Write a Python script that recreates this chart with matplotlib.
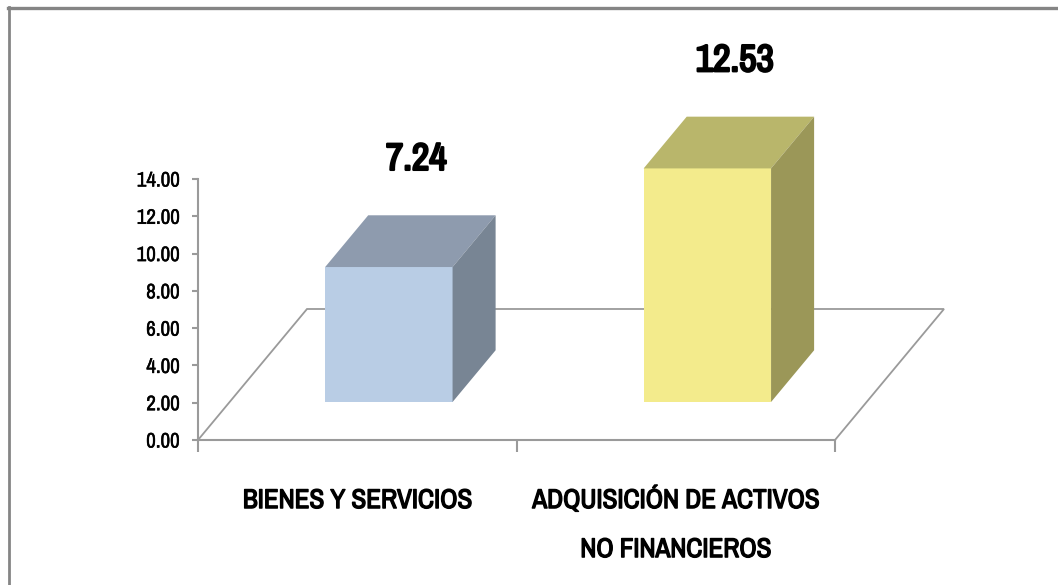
import matplotlib
matplotlib.use("Agg")
import matplotlib.pyplot as plt
from matplotlib.patches import Polygon
from matplotlib.lines import Line2D
from matplotlib import font_manager
import matplotlib.patheffects as pe

# ---------------- data ----------------
categories = ["BIENES Y SERVICIOS", "ADQUISICIÓN DE ACTIVOS\nNO FINANCIEROS"]
values = [7.24, 12.53]
value_labels = ["7.24", "12.53"]
y_ticks = [0, 2, 4, 6, 8, 10, 12, 14]
y_tick_labels = ["0.00", "2.00", "4.00", "6.00", "8.00", "10.00", "12.00", "14.00"]

front_colors = ["#B9CDE5", "#F3EB8C"]
top_colors = ["#8E9BAE", "#B9B66B"]
side_colors = ["#788594", "#9B9758"]

# ---------------- fonts: pick the narrowest available ----------------
entries = font_manager.fontManager.ttflist
names = sorted({f.name for f in entries})


def has_bold(n):
    for f in entries:
        if f.name == n:
            w = f.weight
            if isinstance(w, str):
                if "bold" in w.lower() or "black" in w.lower() or "heavy" in w.lower():
                    return True
            elif w >= 600:
                return True
    return False


cands = [n for n in names if ("Narrow" in n or "Condensed" in n)]
pref = cands + ["Roboto", "Liberation Sans", "Noto Sans", "DejaVu Sans"]
FONT = next(n for n in pref if n in names or n == "DejaVu Sans")
BOLD_OK = has_bold(FONT)
plt.rcParams["font.family"] = [FONT, "DejaVu Sans"]

W, H = 1058, 585
fig = plt.figure(figsize=(W / 100, H / 100), dpi=100)
fig.patch.set_facecolor("white")
ax = fig.add_axes([198 / W, 145 / H, 637 / W, 261 / H])
ax.set_xlim(0, 2)
ax.set_ylim(0, 14)
ax.patch.set_alpha(0)
renderer = fig.canvas.get_renderer()


def make_bold(t, stroke):
    if BOLD_OK:
        t.set_fontweight("bold")
    else:
        t.set_path_effects([pe.withStroke(linewidth=stroke, foreground="black")])


def fit_size(texts, target_w, target_h, slack=1.0):
    """font size so that the widest text spans ~target_w px, capped by cap height."""
    base = 20.0
    widest = 0
    for t in texts:
        t.set_fontsize(base)
        widest = max(widest, t.get_window_extent(renderer).width)
    s = min(base * target_w / widest * slack, target_h)
    for t in texts:
        t.set_fontsize(s)
    return s


gray = "#9A9A9A"
DX, DY = 0.3422, 7.027          # full floor depth vector in data units
d_front, d_back = 0.29, 0.685   # bar front/back depth fractions
bar_w = 0.4

# floor outline (front edge is the bottom spine)
ax.plot([0, DX, 2 + DX, 2], [0, DY, DY, 0], color=gray, lw=1.3,
        clip_on=False, zorder=1, solid_joinstyle="miter")

# spines / ticks
for s in ["top", "right"]:
    ax.spines[s].set_visible(False)
for s in ["left", "bottom"]:
    ax.spines[s].set_color(gray)
    ax.spines[s].set_linewidth(1.5)
ax.set_yticks(y_ticks)
ax.set_yticklabels(y_tick_labels)
ax.tick_params(axis="y", direction="out", length=4.5, width=1.5, color=gray,
               pad=8.5, labelcolor="black")
ax.set_xticks([0, 1, 2])
ax.set_xticklabels([])
ax.tick_params(axis="x", direction="out", length=8.5, width=1.5, color=gray)
ts = fit_size(ax.get_yticklabels()[-1:], 43, 16)
ax.tick_params(axis="y", labelsize=ts)
for t in ax.get_yticklabels():
    t.set_path_effects([pe.withStroke(linewidth=0.35, foreground="black")])

# bars
centers = [i + 0.5 for i in range(len(values))]
fx = [c + d_front * DX for c in centers]
base = d_front * DY
ax.bar(fx, values, width=bar_w, bottom=base, color=front_colors,
       zorder=3, clip_on=False, linewidth=0)
ox = (d_back - d_front) * DX
oy = (d_back - d_front) * DY
for x, v, tc, sc in zip(fx, values, top_colors, side_colors):
    xl, xr = x - bar_w / 2, x + bar_w / 2
    top = base + v
    ax.add_patch(Polygon([(xl, top), (xr, top), (xr + ox, top + oy), (xl + ox, top + oy)],
                         closed=True, fc=tc, ec="none", zorder=3, clip_on=False))
    ax.add_patch(Polygon([(xr, base), (xr + ox, base + oy), (xr + ox, top + oy), (xr, top)],
                         closed=True, fc=sc, ec="none", zorder=3, clip_on=False))

# value labels
vtexts = []
for c, v, lab in zip(centers, values, value_labels):
    vtexts.append(ax.text(c + 0.185, v + d_back * DY + 3.0, lab, ha="center", va="center",
                          color="black", clip_on=False))
vs = fit_size(vtexts[-1:], 78, 36)
for t in vtexts:
    t.set_fontsize(vs)
    make_bold(t, 1.7)

# category labels
ctexts = []
for c, cat in zip(centers, categories):
    for j, line in enumerate(cat.split("\n")):
        ctexts.append(ax.text(c, -3.65 - j * 2.63, line, ha="center", va="baseline",
                              color="black", clip_on=False))
cs = fit_size([t for t in ctexts if "ADQUISI" in t.get_text()], 288, 23)
for t in ctexts:
    t.set_fontsize(cs)
    make_bold(t, 1.0)

# outer frame (cropped at right and bottom)
fig.add_artist(Line2D([8 / W, 1], [1 - 7.5 / H, 1 - 7.5 / H], transform=fig.transFigure,
                      color="#858585", lw=2.4))
fig.add_artist(Line2D([9 / W, 9 / W], [0, 1 - 6.5 / H], transform=fig.transFigure,
                      color="#858585", lw=2.0))

fig.savefig("out.png", dpi=100, facecolor="white")
